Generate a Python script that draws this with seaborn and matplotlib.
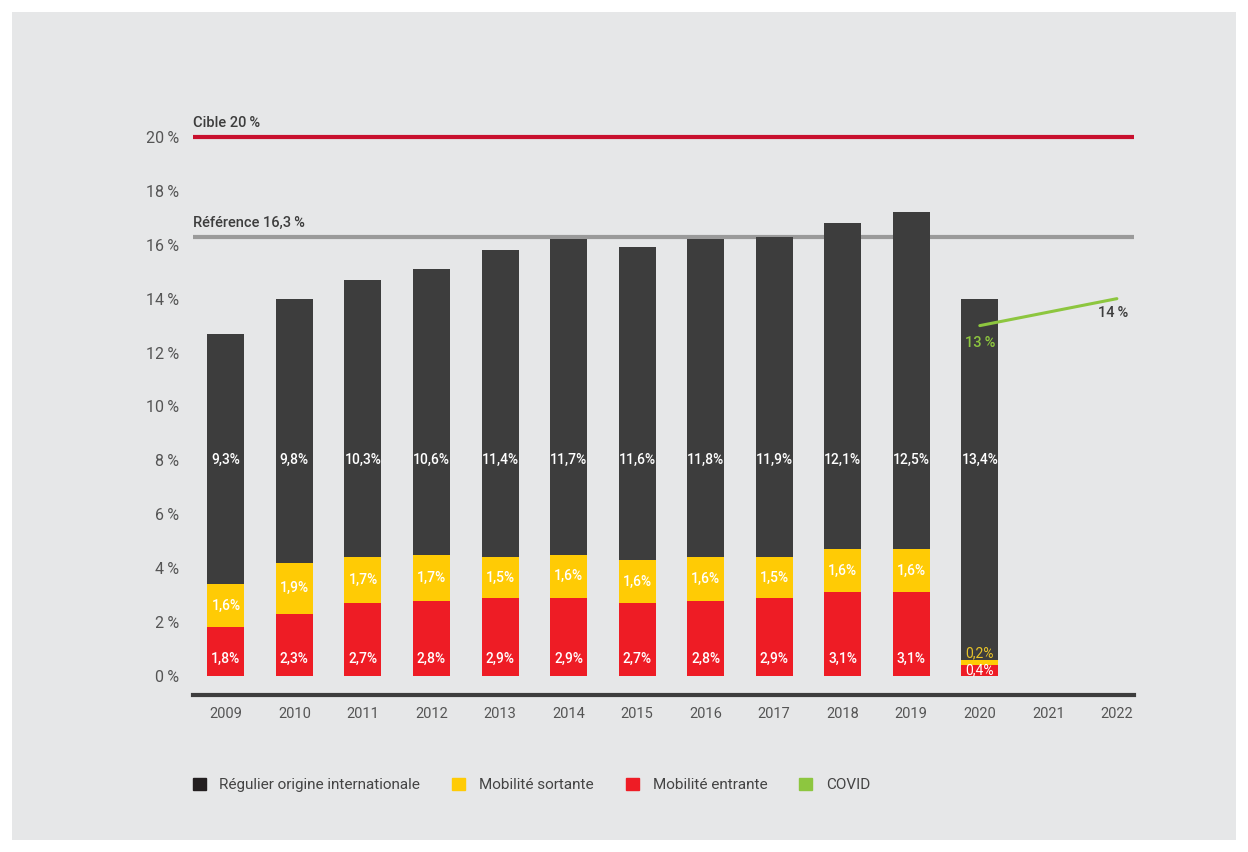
import pandas as pd
import numpy as np
import matplotlib
matplotlib.use('Agg')
import matplotlib.pyplot as plt
import seaborn as sns
from matplotlib.patches import Patch, Rectangle

# Données (en %)
annees = ['2009', '2010', '2011', '2012', '2013', '2014', '2015', '2016', '2017',
          '2018', '2019', '2020', '2021', '2022']
annees_barres = annees[:12]
mobilite_entrante = [1.8, 2.3, 2.7, 2.8, 2.9, 2.9, 2.7, 2.8, 2.9, 3.1, 3.1, 0.4]
mobilite_sortante = [1.6, 1.9, 1.7, 1.7, 1.5, 1.6, 1.6, 1.6, 1.5, 1.6, 1.6, 0.2]
regulier_international = [9.3, 9.8, 10.3, 10.6, 11.4, 11.7, 11.6, 11.8, 11.9, 12.1, 12.5, 13.4]
covid_annees = ['2020', '2022']
covid_valeurs = [13, 14]
cible = 20
reference = 16.3

NOIR = '#3d3d3d'
JAUNE = '#ffcb05'
ROUGE = '#ee1c25'
VERT = '#8dc63f'
FOND = '#e6e7e8'
TEXTE = '#555555'


def fmt(v):
    return f"{v:.1f}".replace('.', ',') + '%'


df = pd.DataFrame({
    'annee': annees_barres,
    'entrante': mobilite_entrante,
    'sortante': mobilite_sortante,
    'regulier': regulier_international,
})
df['cum_sortante'] = df['entrante'] + df['sortante']
df['total'] = df['cum_sortante'] + df['regulier']

sns.set_theme(style='white')
plt.rcParams['font.family'] = ['Roboto', 'DejaVu Sans']

fig = plt.figure(figsize=(12.48, 8.52), dpi=100)
fig.patch.set_facecolor('white')
fond = Rectangle((12 / 1248, 12 / 852), 1224 / 1248, 828 / 852,
                 transform=fig.transFigure, facecolor=FOND, edgecolor='none', zorder=-10)
fig.patches.append(fond)
ax = fig.add_axes([193 / 1248, 157 / 852, 941 / 1248, 585 / 852])
ax.set_facecolor(FOND)
ax.set_zorder(1)

# barres empilées : on dessine les cumuls du plus haut au plus bas
for col, couleur in [('total', NOIR), ('cum_sortante', JAUNE), ('entrante', ROUGE)]:
    sns.barplot(data=df, x='annee', y=col, order=annees, color=couleur,
                width=0.54, saturation=1, linewidth=0, ax=ax, zorder=2)

# lignes cible et référence
ax.axhline(cible, color='#c8102e', lw=3, zorder=1)
ax.axhline(reference, color='#9a9a9a', lw=3, zorder=1)
ax.text(-0.48, cible + 0.25, 'Cible 20\u2009%', fontsize=10.5, fontweight='medium',
        color='#3d3d3d', va='bottom', ha='left')
ax.text(-0.48, reference + 0.25, 'Référence 16,3\u2009%', fontsize=10.5,
        fontweight='medium', color='#3d3d3d', va='bottom', ha='left')

# étiquettes dans les barres
for i, row in df.iterrows():
    ax.text(i, 8, fmt(row['regulier']), ha='center', va='center', color='white',
            fontsize=10, fontweight='medium', zorder=3)
    if row['sortante'] >= 1:
        ax.text(i, row['entrante'] + row['sortante'] / 2, fmt(row['sortante']),
                ha='center', va='center', color='white', fontsize=10,
                fontweight='medium', zorder=3)
        ax.text(i, 0.62, fmt(row['entrante']), ha='center', va='center',
                color='white', fontsize=10, fontweight='medium', zorder=3)
    else:
        ax.text(i, row['cum_sortante'] + 0.25, fmt(row['sortante']), ha='center',
                va='center', color='#e8c42a', fontsize=10, zorder=3)
        ax.text(i, 0.2, fmt(row['entrante']), ha='center', va='center',
                color='white', fontsize=10, zorder=3)

# projection COVID
x_covid = [annees.index(a) for a in covid_annees]
ax.plot(x_covid, covid_valeurs, color=VERT, lw=2.2, zorder=4)
ax.text(x_covid[0], covid_valeurs[0] - 0.65, f"{covid_valeurs[0]}\u2009%", color=VERT,
        fontsize=10.5, ha='center', va='center', fontweight='medium', zorder=4)
ax.text(x_covid[1] - 0.05, covid_valeurs[1] - 0.55, f"{covid_valeurs[1]}\u2009%",
        color=NOIR, fontsize=10.5, ha='center', va='center', fontweight='medium', zorder=4)

# axes
ax.set_xlim(-0.48, 13.25)
ax.set_ylim(-0.705, 21.0)
ax.set_yticks(range(0, 21, 2))
ax.set_yticklabels([f"{v}\u2009%" for v in range(0, 21, 2)], fontsize=11.5, color=TEXTE)
ax.tick_params(axis='y', length=0, pad=10)
ax.tick_params(axis='x', length=0, pad=9, labelsize=10.5, labelcolor=TEXTE)
ax.set_xlabel('')
ax.set_ylabel('')
for s in ['top', 'right', 'left']:
    ax.spines[s].set_visible(False)
ax.spines['bottom'].set_color('#3d3d3d')
ax.spines['bottom'].set_linewidth(3)

handles = [Patch(color='#231f20', label='Régulier origine internationale'),
           Patch(color=JAUNE, label='Mobilité sortante'),
           Patch(color=ROUGE, label='Mobilité entrante'),
           Patch(color=VERT, label='COVID')]
leg = fig.legend(handles=handles, loc='center left', bbox_to_anchor=(179 / 1248, 1 - 785 / 852),
                 ncol=4, frameon=False, fontsize=11, handlelength=0.85, handleheight=0.85,
                 handletextpad=0.9, columnspacing=2.1)
for t in leg.get_texts():
    t.set_color('#444444')

plt.savefig('out.png', dpi=100, facecolor=fig.get_facecolor())
plt.close()
